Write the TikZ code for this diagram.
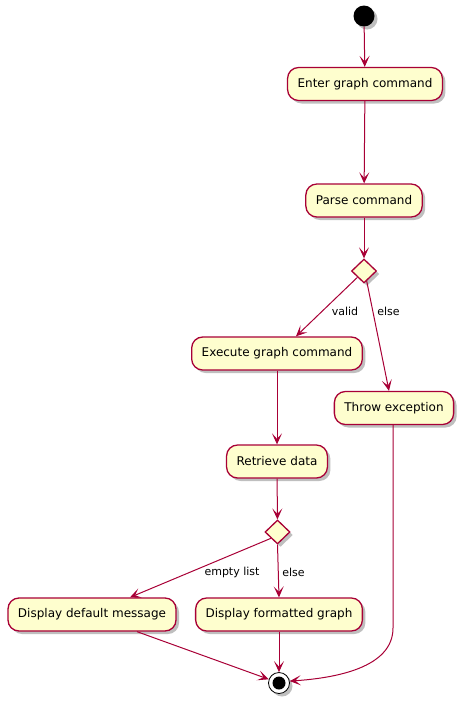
\documentclass[tikz,border=0pt]{standalone}
\usepackage{fontspec}
\setmainfont{DejaVu Sans}
\usetikzlibrary{shapes.geometric,arrows.meta,shadows,calc}
\definecolor{umlfill}{HTML}{FEFECE}
\definecolor{umlline}{HTML}{A80036}
\tikzset{
  act/.style={draw=umlline, fill=umlfill, line width=1.3pt, rounded corners=11pt,
    minimum height=33pt, inner xsep=10pt, font=\fontsize{12}{14}\selectfont,
    drop shadow={shadow xshift=3pt, shadow yshift=-3pt, fill=black, opacity=0.25}},
  dec/.style={diamond, draw=umlline, fill=umlfill, line width=1.3pt, minimum width=25pt,
    minimum height=24pt, inner sep=0pt,
    drop shadow={shadow xshift=3pt, shadow yshift=-3pt, fill=black, opacity=0.25}},
  flow/.style={draw=umlline, line width=1pt, -{Stealth[length=11pt,width=10pt,inset=5.5pt]}},
  lbl/.style={font=\fontsize{11}{13}\selectfont, inner sep=1pt}
}
\begin{document}
\begin{tikzpicture}[x=1pt,y=-1pt]
\useasboundingbox (0,0) rectangle (467,704);
\node[circle, fill=black, minimum size=21pt, inner sep=0pt,
  drop shadow={shadow xshift=3pt, shadow yshift=-3pt, fill=black, opacity=0.25}] (start) at (364,16) {};
\node[act] (enter) at (365,84) {Enter graph command};
\node[act] (parse) at (364,200.5) {Parse command};
\node[dec] (d1) at (364,271) {};
\node[act] (exec) at (277,353.5) {Execute graph command};
\node[act] (throw) at (394,408) {Throw exception};
\node[act] (retr) at (277,461.5) {Retrieve data};
\node[dec] (d2) at (277.5,532) {};
\node[act] (def) at (92,614.5) {Display default message};
\node[act] (fmt) at (279,614.5) {Display formatted graph};
\node[circle, draw=black, fill=white, line width=0.8pt, minimum size=21pt, inner sep=0pt,
  drop shadow={shadow xshift=3pt, shadow yshift=-3pt, fill=black, opacity=0.25}] (end) at (279,683) {};
\node[circle, fill=black, minimum size=13pt, inner sep=0pt] (endin) at (end) {};

\node[lbl] (lvalid) at (345,311) {valid};
\node[lbl] (lelse1) at (388.5,311) {else};
\node[lbl] (lempty) at (232,572) {empty list};
\node[lbl] (lelse2) at (293.5,572) {else};

\draw[flow] (start) -- (enter);
\draw[flow] (enter) -- (parse);
\draw[flow] (parse) -- (d1);
\draw[flow] (d1.south west) -- ($(exec.north)+(19,0)$);
\draw[flow] (d1.-75) -- ($(throw.north)+(-5,0)$);
\draw[flow] (exec) -- (retr);
\draw[flow] (retr) -- (d2);
\draw[flow] (d2.south west) -- ($(def.north)+(38,0)$);
\draw[flow] (d2.south) -- (fmt.north);
\draw[flow] ($(def.south)+(45,0)$) -- (end.160);
\draw[flow] (fmt) -- (end);
\coordinate (tb) at (393,628);
\draw[flow] (throw.south -| tb) -- (tb) .. controls (393,668) and (335,678) .. (end.10);
\end{tikzpicture}
\end{document}
